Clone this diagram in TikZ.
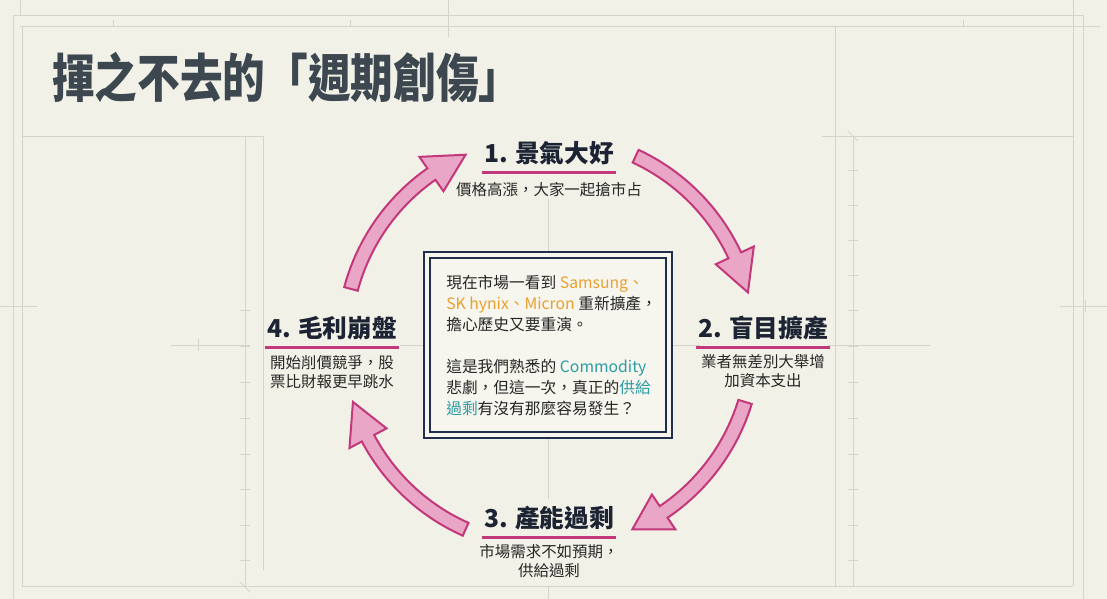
\documentclass[tikz,border=0pt]{standalone}
\usepackage{fontspec}
\setmainfont{Noto Sans CJK TC}
\usetikzlibrary{calc}
\definecolor{bgc}{HTML}{F2F1E8}
\definecolor{gridc}{HTML}{D6D3C8}
\definecolor{titlec}{HTML}{3C4750}
\definecolor{headc}{HTML}{1C2333}
\definecolor{txtc}{HTML}{262626}
\definecolor{magc}{HTML}{C2387A}
\definecolor{pinkc}{HTML}{EAA6C6}
\definecolor{navyc}{HTML}{1F2E4A}
\definecolor{boxc}{HTML}{F6F5EE}
\definecolor{orngc}{HTML}{E9A030}
\definecolor{tealc}{HTML}{2A9CA3}
\tikzset{
  gridline/.style={draw=gridc, line width=0.6pt},
  headtext/.style={font=\bfseries\fontsize{18.5}{20}\selectfont, text=headc, inner sep=1pt},
  subtext/.style={font=\fontsize{11.6}{14.4}\selectfont, text=txtc, align=center, inner sep=0pt},
  ulsty/.style={draw=magc, line width=2pt},
  arrowsty/.style={draw=magc, fill=pinkc, line width=1.5pt, line join=miter},
}
\newcommand\cycarrow[3]{%
  \draw[arrowsty] ($(C)+(#1:212)$) arc[start angle=#1, end angle=#2, radius=212]
    -- ($(C)+(#2:226)$) -- ($(C)+(#3:205)$) -- ($(C)+(#2:184)$) -- ($(C)+(#2:198)$)
    arc[start angle=#2, end angle=#1, radius=198] -- cycle;}
\begin{document}
\begin{tikzpicture}[x=0.75pt, y=0.75pt]
\fill[bgc] (0,0) rectangle (1107,599);
\useasboundingbox (0,0) rectangle (1107,599);
% background drafting lines (y = 599 - pixel row)
\draw[gridline] (13,584) -- (1083,584);
\draw[gridline] (20,573) -- (1100,573);
\draw[gridline] (13,584) -- (13,0);
\draw[gridline] (22,573) -- (22,13);
\draw[gridline] (1083,584) -- (1083,0);
\draw[gridline] (1073,599) -- (1073,13);
\draw[gridline] (22,13) -- (1073,13);
\draw[gridline] (20,599) -- (20,584);
\draw[gridline] (448,599) -- (448,562);
\draw[gridline] (113,573) -- (113,579);
\draw[gridline] (350,573) -- (350,579);
\draw[gridline] (963,573) -- (963,579);
\draw[gridline] (245,463) -- (245,13);
\draw[gridline] (263,463) -- (263,29);
\draw[gridline] (22,463) -- (263,463);
\draw[gridline] (835,573) -- (835,13);
\draw[gridline] (853,463) -- (853,13);
\draw[gridline] (822,463) -- (1073,463);
\draw[gridline] (848,468) -- (858,458);
\draw[gridline] (240,17) -- (250,7);
\foreach \yy in {289,253,217,181,145,110,74,39} \draw[gridline] (240,\yy) -- (250,\yy);
\foreach \yy in {429,394,359,324,289,253,217,181,145,110,74,39} \draw[gridline] (848,\yy) -- (858,\yy);
\draw[gridline] (171,254) -- (250,254);
\draw[gridline] (198,248) -- (198,260);
\draw[gridline] (0,293) -- (37,293);
\draw[gridline] (1060,293) -- (1107,293);
\draw[gridline] (1085,287) -- (1085,299);
\draw[gridline] (548,347) -- (548,400);
\draw[gridline] (548,161) -- (548,100);
\draw[gridline] (548,13) -- (548,0);
\draw[gridline] (400,254) -- (424,254);
\draw[gridline] (672,254) -- (700,254);
\draw[gridline] (828,254) -- (930,254);

\coordinate (C) at (549,257);

% title
\node[anchor=west, inner sep=0pt, text=titlec, font=\bfseries\fontsize{39}{40}\selectfont] (title) at (52,521)
  {\scalebox{0.82}[1]{揮之不去的「週期創傷」}};

% cycle arrows
\cycarrow{165}{125}{114}
\cycarrow{65}{25}{14}
\cycarrow{-17}{-56}{-66}
\cycarrow{246}{208}{197}

% stage 1
\node[headtext] (h1) at (549,446) {1. 景氣大好};
\draw[ulsty] ($(h1.south west)+(0,-6)$) -- ($(h1.south east)+(0,-6)$);
\node[subtext] (s1) at (549,409) {價格高漲，大家一起搶市占};
% stage 2
\node[headtext] (h2) at (763,271) {2. 盲目擴產};
\draw[ulsty] ($(h2.south west)+(0,-6)$) -- ($(h2.south east)+(0,-6)$);
\node[subtext] (s2) at (763,228) {業者無差別大舉增\\加資本支出};
% stage 3
\node[headtext] (h3) at (549,81) {3. 產能過剩};
\draw[ulsty] ($(h3.south west)+(0,-6)$) -- ($(h3.south east)+(0,-6)$);
\node[subtext] (s3) at (549,38) {市場需求不如預期，\\供給過剩};
% stage 4
\node[headtext] (h4) at (332,271) {4. 毛利崩盤};
\draw[ulsty] ($(h4.south west)+(0,-6)$) -- ($(h4.south east)+(0,-6)$);
\node[subtext] (s4) at (332,227) {開始削價競爭，股\\票比財報更早跳水};

% center box
\node[draw=navyc, fill=boxc, line width=2.2pt, minimum width=248*0.75pt, minimum height=186*0.75pt, inner sep=0pt] (box) at (548,254) {};
\node[draw=navyc, line width=0.9pt, minimum width=236*0.75pt, minimum height=174*0.75pt, inner sep=0pt] (boxin) at (box.center) {};
\node[anchor=west, align=left, inner sep=0pt, text=txtc, font=\fontsize{11.8}{15.75}\selectfont] (boxtext) at (446,253.5)
{現在市場一看到 {\color{orngc}Samsung、}\\
{\color{orngc}SK hynix、Micron} 重新擴產，\\
擔心歷史又要重演。\\[15.75pt]
這是我們熟悉的 {\color{tealc}Commodity}\\
悲劇，但這一次，真正的{\color{tealc}供給}\\
{\color{tealc}過剩}有沒有那麼容易發生？};
\end{tikzpicture}
\end{document}
